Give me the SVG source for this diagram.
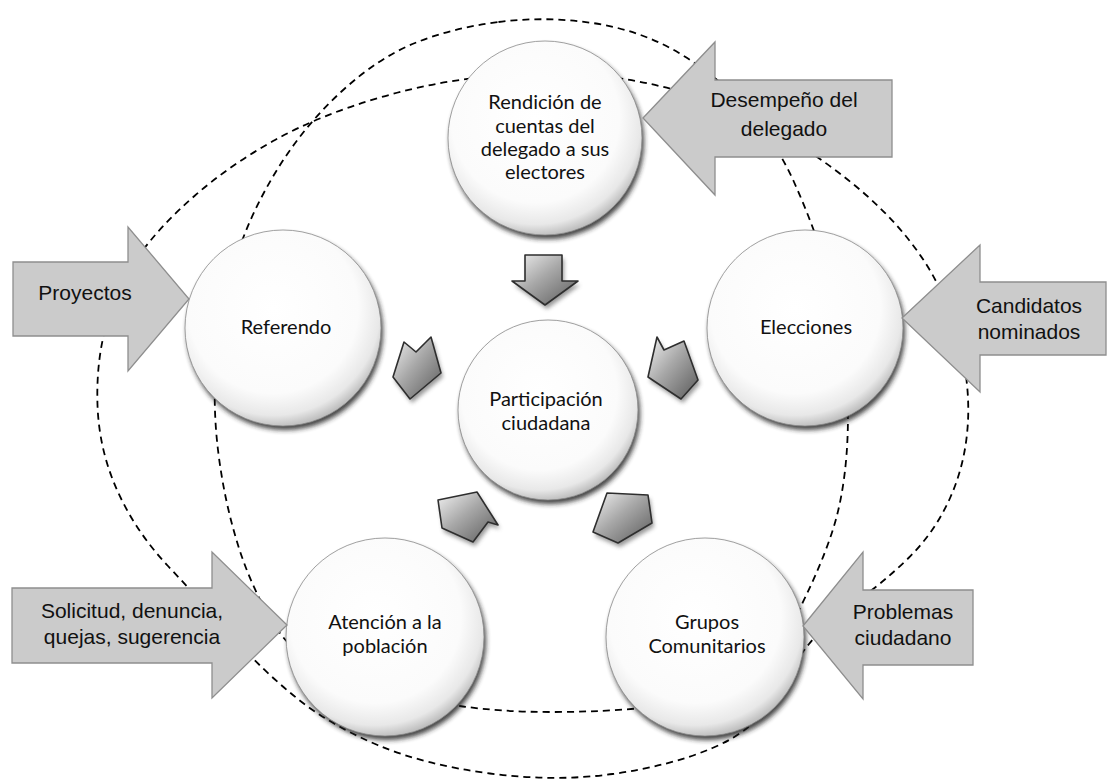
<svg xmlns="http://www.w3.org/2000/svg" width="1108" height="780" viewBox="0 0 1108 780">
<defs>
<radialGradient id="ball" cx="0.45" cy="0.4" r="0.62">
<stop offset="0" stop-color="#ffffff"/>
<stop offset="0.7" stop-color="#fbfbfb"/>
<stop offset="0.88" stop-color="#e8e8e8"/>
<stop offset="1" stop-color="#b4b4b4"/>
</radialGradient>
<linearGradient id="chev" x1="0" y1="0" x2="1" y2="1">
<stop offset="0" stop-color="#f2f2f2"/>
<stop offset="0.45" stop-color="#a8a8a8"/>
<stop offset="1" stop-color="#5a5a5a"/>
</linearGradient>
<filter id="blur" x="-20%" y="-20%" width="140%" height="140%">
<feGaussianBlur stdDeviation="2.5"/>
</filter>
<filter id="blur2" x="-30%" y="-30%" width="160%" height="160%">
<feGaussianBlur stdDeviation="2"/>
</filter>
</defs>
<style>
.dash{fill:none;stroke:#000;stroke-width:1.8;stroke-dasharray:7 5}
.shadow{fill:#222;opacity:0.85;filter:url(#blur)}
.ball{fill:url(#ball);stroke:#8a8a8a;stroke-width:0.8}
.ntext{font-family:Lato,"Open Sans",sans-serif;font-size:20px;fill:#111;text-anchor:middle}
.big{fill:#cbcbcb;stroke:#8e8e8e;stroke-width:1.3}
.atext{font-family:"Liberation Sans",Arial,sans-serif;font-size:21px;fill:#111;text-anchor:middle}
.chev{fill:url(#chev);stroke:#2e2e2e;stroke-width:1.6;stroke-linejoin:round}
.chevsh{fill:#555;opacity:0.6;filter:url(#blur2)}
</style>

<g id="connectors">
<path class="dash" d="M498.5,22 Q545,16 592.5,23 Q640,30 679,53 Q718,76 747,109 Q776,142 794,182 Q812,222 826,266 Q840,310 845,360 Q850,410 846.5,455 Q843,500 831.5,534 Q820,568 800,608 Q780,648 740,675 Q700,702 652.5,707 Q605,712 552.5,712 Q500,712 460,706 Q420,700 360,682.5 Q300,665 276,627.5 Q252,590 238,545 Q224,500 218,450 Q212,400 217,350 Q222,300 237,255 Q252,210 278.5,167.5 Q305,125 341.5,91.5 Q378,58 415,43 Q452,28 498.5,22 Z"/>
<path class="dash" d="M496.5,76 Q553,72 599,76 Q645,80 695,96 Q745,112 788.5,138.5 Q832,165 866,195 Q900,225 922.5,258.5 Q945,292 957.5,336 Q970,380 968,421 Q966,462 950.5,497 Q935,532 908.5,558 Q882,584 855,602 Q828,620 809,644 Q790,668 772.5,699 Q755,730 712.5,748 Q670,766 612.5,774 Q555,782 490,773.5 Q425,765 377.5,745 Q330,725 296,697.5 Q262,670 231,635 Q200,600 168,566 Q136,532 117.5,491 Q99,450 97.5,405 Q96,360 107,322.5 Q118,285 139,255.5 Q160,226 195,195.5 Q230,165 275,140 Q320,115 380,97.5 Q440,80 496.5,76 Z"/>
</g>

<g id="node-rendicion">
<circle class="shadow" cx="547" cy="142" r="97"/>
<circle class="ball" cx="545" cy="138" r="97"/>
<text class="ntext" x="545" y="109">Rendición de</text>
<text class="ntext" x="545" y="133">cuentas del</text>
<text class="ntext" x="545" y="156">delegado a sus</text>
<text class="ntext" x="545" y="179">electores</text>
</g>

<g id="node-referendo">
<circle class="shadow" cx="285" cy="332" r="98"/>
<circle class="ball" cx="283" cy="328" r="98"/>
<text class="ntext" x="286" y="334">Referendo</text>
</g>

<g id="node-elecciones">
<circle class="shadow" cx="807" cy="332" r="98"/>
<circle class="ball" cx="805" cy="328" r="98"/>
<text class="ntext" x="806" y="334">Elecciones</text>
</g>

<g id="node-participacion">
<circle class="shadow" cx="550" cy="414" r="90"/>
<circle class="ball" cx="548" cy="410" r="90"/>
<text class="ntext" x="546" y="406">Participación</text>
<text class="ntext" x="546" y="430">ciudadana</text>
</g>

<g id="node-atencion">
<circle class="shadow" cx="387" cy="641" r="99"/>
<circle class="ball" cx="385" cy="637" r="99"/>
<text class="ntext" x="385" y="629">Atención a la</text>
<text class="ntext" x="385" y="653">población</text>
</g>

<g id="node-grupos">
<circle class="shadow" cx="707" cy="641" r="99"/>
<circle class="ball" cx="705" cy="637" r="99"/>
<text class="ntext" x="707" y="629">Grupos</text>
<text class="ntext" x="707" y="653">Comunitarios</text>
</g>

<g id="arrow-desempeno">
<polygon class="big" points="643,118 715,42 715,80 892,80 892,157 715,157 715,195"/>
<text class="atext" x="784" y="107">Desempeño del</text>
<text class="atext" x="784" y="136">delegado</text>
</g>

<g id="arrow-proyectos">
<polygon class="big" points="13,262 128,262 128,227 189,299 128,371 128,336 13,336"/>
<text class="atext" x="85" y="300">Proyectos</text>
</g>

<g id="arrow-candidatos">
<polygon class="big" points="902,318 980,245 980,282 1106,282 1106,355 980,355 980,392"/>
<text class="atext" x="1029" y="313">Candidatos</text>
<text class="atext" x="1029" y="339">nominados</text>
</g>

<g id="arrow-solicitud">
<polygon class="big" points="12,588 212,588 212,552 287,625 212,698 212,663 12,663"/>
<text class="atext" x="132" y="618">Solicitud, denuncia,</text>
<text class="atext" x="132" y="644">quejas, sugerencia</text>
</g>

<g id="arrow-problemas">
<polygon class="big" points="803,626 863,552 863,590 973,590 973,665 863,665 863,699"/>
<text class="atext" x="903" y="619">Problemas</text>
<text class="atext" x="903" y="645">ciudadano</text>
</g>

<g id="chevrons">
<polygon class="chevsh" points="527,259 564,259 564,285 580,285 547,309 514,285 527,285"/>
<polygon class="chev" points="525,255 562,255 562,281 578,281 545,305 512,281 525,281"/>
<polygon class="chevsh" points="406,346 418,356 433,341 443,377 412,403 395,381"/>
<polygon class="chev" points="404,342 416,352 431,337 441,373 410,399 393,377"/>
<polygon class="chevsh" points="659,341 666,354 686,345 700,384 683,403 650,381"/>
<polygon class="chev" points="657,337 664,350 684,341 698,380 681,399 648,377"/>
<polygon class="chevsh" points="440,504 479,496 500,529 490,526 475,546 444,532"/>
<polygon class="chev" points="438,500 477,492 498,525 488,522 473,542 442,528"/>
<polygon class="chevsh" points="609,497 650,499 654,527 620,547 595,536"/>
<polygon class="chev" points="607,493 648,495 652,523 618,543 593,532"/>
</g>
</svg>
